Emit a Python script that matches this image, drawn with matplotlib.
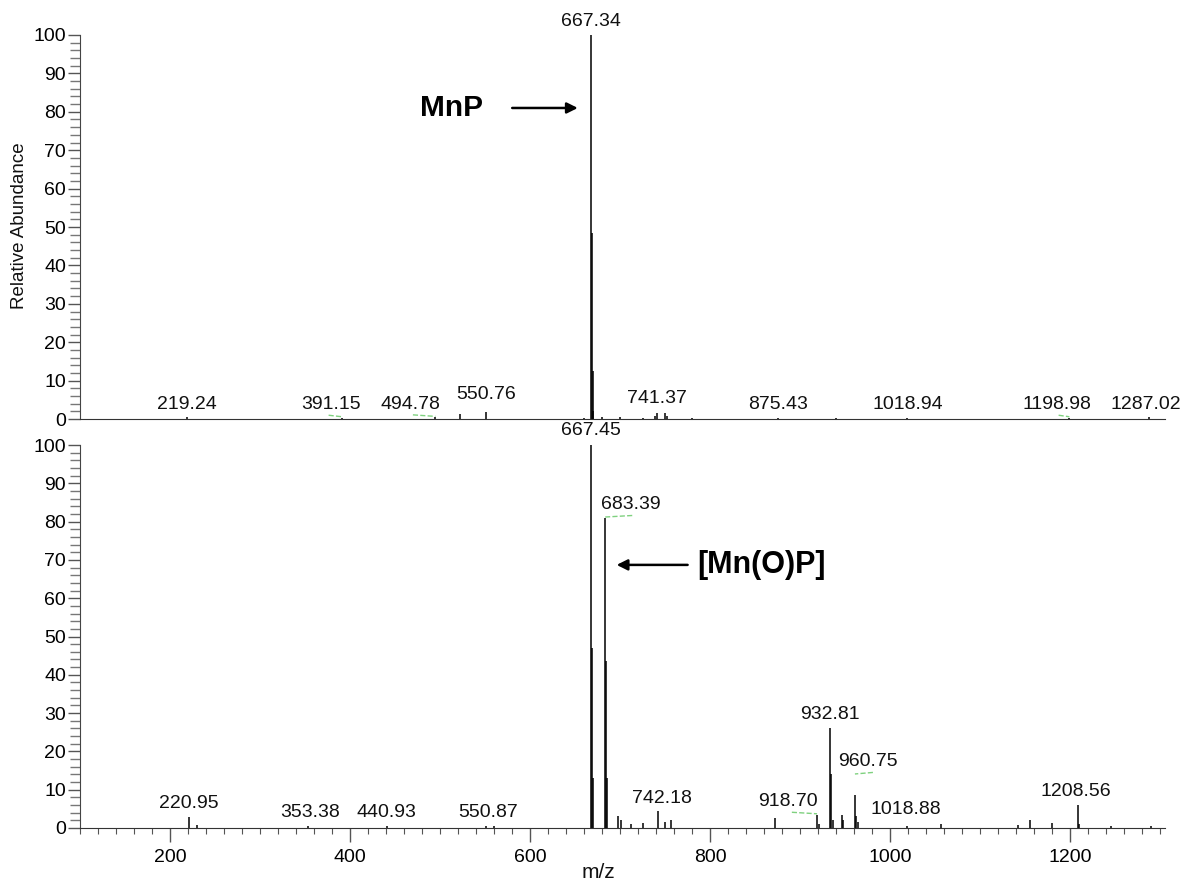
import numpy as np
import matplotlib
matplotlib.use("Agg")
import matplotlib.pyplot as plt
from matplotlib.ticker import MultipleLocator

plt.rcParams['font.family'] = ['Liberation Sans', 'DejaVu Sans']

# top spectrum (MnP) - m/z and relative abundance
top_mz = [219.24, 391.15, 494.78, 522.0, 550.76, 660.0, 667.34, 668.34, 669.34, 670.3,
          680.0, 700.0, 725.0, 739.0, 741.37, 750.0, 752.0, 780.0, 875.43, 940.0,
          1018.94, 1198.98, 1287.02]
top_int = [0.6, 0.4, 0.5, 1.2, 1.8, 0.3, 100.0, 48.5, 12.5, 2.0,
           0.5, 0.5, 0.4, 0.8, 1.5, 1.5, 0.8, 0.3, 0.3, 0.2,
           0.3, 0.3, 0.5]

# bottom spectrum ([Mn(O)P])
bot_mz = [220.95, 230.0, 353.38, 440.93, 550.87, 560.0, 667.45, 668.45, 669.45, 683.39,
          684.39, 685.39, 698.0, 701.0, 712.0, 725.0, 742.18, 750.0, 757.0, 872.0,
          918.70, 921.0, 932.81, 933.81, 936.0, 946.0, 948.0, 960.75, 961.75, 964.0,
          1018.88, 1056.0, 1142.0, 1155.0, 1180.0, 1208.56, 1210.0, 1245.0, 1290.0]
bot_int = [2.9, 0.8, 0.5, 0.6, 0.6, 0.5, 100.0, 47.0, 13.0, 81.0,
           43.5, 13.0, 3.0, 2.0, 1.0, 1.2, 4.5, 1.5, 2.0, 2.5,
           3.5, 1.0, 26.0, 14.0, 2.0, 3.5, 2.0, 8.5, 3.0, 1.5,
           0.5, 1.0, 0.8, 2.0, 1.2, 6.0, 1.0, 0.5, 0.5]

# labelled peaks
top_labels = [219.24, 391.15, 494.78, 550.76, 667.34, 741.37, 875.43, 1018.94, 1198.98, 1287.02]
bot_labels = [220.95, 353.38, 440.93, 550.87, 667.45, 683.39, 742.18, 918.70, 932.81,
              960.75, 1018.88, 1208.56]

# label layout: (x shift, lift above peak) and green connector offsets
top_layout = {219.24: (0, 1.0), 391.15: (-12, 1.2), 494.78: (-28, 1.2), 550.76: (0, 2.4),
              667.34: (0, 1.3), 741.37: (0, 1.6), 875.43: (0, 1.3), 1018.94: (0, 1.3),
              1198.98: (-14, 1.3), 1287.02: (-3, 1.1)}
bot_layout = {220.95: (0, 1.3), 353.38: (2, 1.3), 440.93: (0, 1.2), 550.87: (2, 1.2),
              667.45: (0, 1.5), 683.39: (28, 1.2), 742.18: (4, 1.0), 918.70: (-32, 1.2),
              932.81: (0, 1.5), 960.75: (15, 6.6), 1018.88: (-2, 2.1), 1208.56: (-3, 1.3)}
top_links = {391.15: -15, 494.78: -25, 1198.98: -12}
bot_links = {683.39: 30, 918.70: -28, 960.75: 20}


def style_axis(ax, show_x):
    ax.set_xlim(100, 1305)
    ax.set_ylim(0, 100)
    for s in ['top', 'right']:
        ax.spines[s].set_visible(False)
    ax.spines['left'].set_color('#444444')
    ax.spines['bottom'].set_color('#333333')
    ax.yaxis.set_major_locator(MultipleLocator(10))
    ax.yaxis.set_minor_locator(MultipleLocator(2))
    ax.tick_params(axis='y', which='major', length=9, width=1, color='#555555',
                   labelsize=14, pad=1)
    ax.tick_params(axis='y', which='minor', length=7, width=1, color='#777777')
    if show_x:
        ax.xaxis.set_major_locator(MultipleLocator(200))
        ax.xaxis.set_minor_locator(MultipleLocator(20))
        ax.tick_params(axis='x', which='major', length=10, width=1, color='#555555',
                       labelsize=14, pad=5)
        ax.tick_params(axis='x', which='minor', length=4, width=0.8, color='#555555')
    else:
        ax.tick_params(axis='x', which='both', length=0, labelbottom=False)


def draw_spectrum(ax, mz, inten, labels, layout, links):
    ax.vlines(mz, 0, inten, color='black', lw=1.1)
    heights = dict(zip(mz, inten))
    for m in labels:
        dx, lift = layout[m]
        y = heights[m] + lift
        ax.text(m + dx, y, '%.2f' % m, ha='center', va='bottom', fontsize=14,
                color='#111111', clip_on=False)
        if m in links:
            ax.plot([m + links[m], m], [y - 0.6, y - 1.0], color='#7fd17f', lw=1,
                    ls='--', clip_on=False)


fig = plt.figure(figsize=(11.85, 8.86), dpi=100)
ax_top = fig.add_axes([0.0675, 0.527, 0.9155, 0.4335])
ax_bot = fig.add_axes([0.0675, 0.0655, 0.9155, 0.4322])

style_axis(ax_top, False)
style_axis(ax_bot, True)
draw_spectrum(ax_top, top_mz, top_int, top_labels, top_layout, top_links)
draw_spectrum(ax_bot, bot_mz, bot_int, bot_labels, bot_layout, bot_links)

# annotations
ax_top.annotate('', xy=(656, 81), xytext=(577, 81),
                arrowprops=dict(arrowstyle='-|>', color='black', lw=1.8, mutation_scale=16))
ax_top.text(513, 81, 'MnP', ha='center', va='center', fontsize=21.5, fontweight='bold')
ax_bot.annotate('', xy=(693, 68.7), xytext=(778, 68.7),
                arrowprops=dict(arrowstyle='-|>', color='black', lw=1.8, mutation_scale=16))
ax_bot.text(786, 68.7, '[Mn(O)P]', ha='left', va='center', fontsize=22, fontweight='bold')

fig.text(20 / 1185, 0.745, 'Relative Abundance', rotation=90, ha='center', va='center',
         fontsize=13.5, color='#111111')
fig.text(598 / 1185, 1 - 873 / 886, 'm/z', ha='center', va='center', fontsize=15,
         color='#111111')

fig.savefig('out.png', dpi=100)
